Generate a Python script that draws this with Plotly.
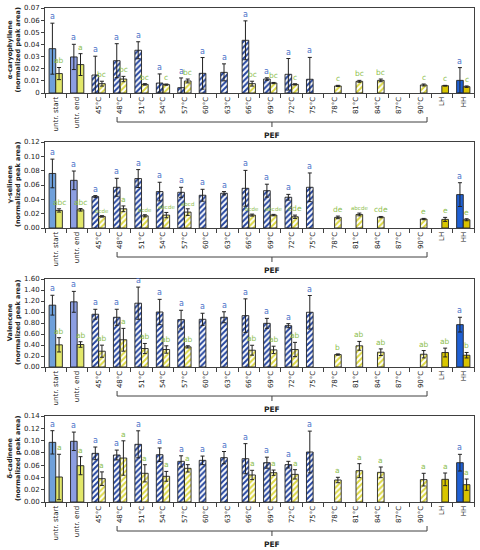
import plotly.graph_objects as go

categories = ["untr. start", "untr. end", "45°C", "48°C", "51°C", "54°C", "57°C", "60°C",
              "63°C", "66°C", "69°C", "72°C", "75°C", "78°C", "81°C", "84°C", "87°C",
              "90°C", "LH", "HH"]
treatment = ["untr", "untr"] + ["pef"] * 16 + ["LH", "HH"]

titles = ["α-caryophyllene", "γ-selinene", "Valencene", "δ-cadinene"]

N_ = None
car_blue = [0.0365, 0.0297, 0.0148, 0.0266, 0.0352, 0.0082, 0.0044, 0.0162, 0.0170, 0.0434,
            0.0115, 0.0154, 0.0113, N_, N_, N_, N_, N_, N_, 0.0104]
car_blue_err = [0.021, 0.0104, 0.0155, 0.014, 0.007, 0.0075, 0.008, 0.013, 0.007, 0.016,
                0.001, 0.013, 0.018, N_, N_, N_, N_, N_, N_, 0.0105]
car_yel = [0.016, 0.0234, 0.0077, 0.0115, 0.0071, 0.0069, 0.0099, N_, N_, 0.0077,
           0.0082, 0.0071, N_, 0.0058, 0.0096, 0.0104, N_, 0.0066, 0.0060, 0.0052]
car_yel_err = [0.005, 0.009, 0.002, 0.0022, 0.0006, 0.0005, 0.0016, N_, N_, 0.002,
               0.0005, 0.0005, N_, 0.0005, 0.0008, 0.0011, N_, 0.0008, 0.0003, 0.0006]
car_yel_let = ["ab", "a", "bc", "bc", "bc", "c", "bc", N_, N_, "bc", "bc", "c", N_, "c",
               "bc", "bc", N_, "c", "c", "c"]

sel_blue = [0.0761, 0.0665, 0.0438, 0.0568, 0.069, 0.0508, 0.0498, 0.0457, 0.0485, 0.0554,
            0.0521, 0.0429, 0.0568, N_, N_, N_, N_, N_, N_, 0.0466]
sel_blue_err = [0.020, 0.013, 0.0014, 0.0125, 0.0125, 0.013, 0.007, 0.0083, 0.0023, 0.025,
                0.009, 0.004, 0.020, N_, N_, N_, N_, N_, N_, 0.0166]
sel_yel = [0.0245, 0.0254, 0.0162, 0.0268, 0.017, 0.018, 0.0222, N_, N_, 0.018,
           0.018, 0.0157, N_, 0.0148, 0.0189, 0.0152, N_, 0.0125, 0.012, 0.0115]
sel_yel_err = [0.0023, 0.0018, 0.001, 0.004, 0.0015, 0.0037, 0.0046, N_, N_, 0.0014,
               0.001, 0.0023, N_, 0.0018, 0.0019, 0.0009, N_, 0.0009, 0.0028, 0.0014]
sel_yel_let = ["abc", "abc", "bcde", "a", "bcde", "abcde", "abcd", N_, N_, "bcde", "abcde",
               "cde", N_, "de", "abcde", "cde", N_, "e", "e", "e"]

val_blue = [1.124, 1.185, 0.959, 0.904, 1.16, 1.0, 0.861, 0.867, 0.904, 0.934,
            0.794, 0.751, 0.995, N_, N_, N_, N_, N_, N_, 0.77]
val_blue_err = [0.18, 0.19, 0.09, 0.146, 0.293, 0.23, 0.17, 0.11, 0.10, 0.305,
                0.09, 0.037, 0.305, N_, N_, N_, N_, N_, N_, 0.134]
val_yel = [0.403, 0.409, 0.287, 0.495, 0.336, 0.318, 0.366, N_, N_, 0.305,
           0.311, 0.318, N_, 0.226, 0.385, 0.269, N_, 0.232, 0.263, 0.214]
val_yel_err = [0.13, 0.05, 0.11, 0.207, 0.092, 0.067, 0.02, N_, N_, 0.09,
               0.067, 0.13, N_, 0.012, 0.08, 0.06, N_, 0.067, 0.08, 0.05]
val_yel_let = ["ab", "ab", "ab", "a", "ab", "ab", "ab", N_, N_, "ab", "ab", "ab", N_, "b",
               "ab", "ab", N_, "ab", "ab", "b"]

cad_blue = [0.0971, 0.0988, 0.0792, 0.0765, 0.0939, 0.077, 0.0662, 0.0678, 0.0722, 0.0705,
            0.064, 0.0608, 0.0814, N_, N_, N_, N_, N_, N_, 0.064]
cad_blue_err = [0.019, 0.015, 0.0103, 0.008, 0.022, 0.011, 0.009, 0.007, 0.010, 0.0245,
                0.009, 0.0054, 0.034, N_, N_, N_, N_, N_, N_, 0.0136]
cad_yel = [0.0407, 0.0591, 0.038, 0.0716, 0.0467, 0.0418, 0.0548, N_, N_, 0.044,
           0.0477, 0.045, N_, 0.0358, 0.051, 0.0483, N_, 0.0364, 0.0369, 0.0282]
cad_yel_err = [0.037, 0.0147, 0.011, 0.028, 0.014, 0.008, 0.006, N_, N_, 0.0076,
               0.0043, 0.0076, N_, 0.0044, 0.0114, 0.0087, N_, 0.0103, 0.0103, 0.0092]
cad_yel_let = ["a"] * 7 + [N_, N_] + ["a"] * 3 + [N_] + ["a"] * 3 + [N_] + ["a"] * 3

y_max = [0.07, 0.12, 1.60, 0.14]
y_dtick = [0.01, 0.02, 0.20, 0.02]

panels = [
    (car_blue, car_blue_err, car_yel, car_yel_err, car_yel_let),
    (sel_blue, sel_blue_err, sel_yel, sel_yel_err, sel_yel_let),
    (val_blue, val_blue_err, val_yel, val_yel_err, val_yel_let),
    (cad_blue, cad_blue_err, cad_yel, cad_yel_err, cad_yel_let),
]

# ---- styling ----
W, H = 480, 550
L, R = 45, 6
panel_px = [(8, 93), (142, 228), (279, 367), (416, 502)]  # top, bottom in px
FONT = "DejaVu Sans"
BLUE_TXT = "#4A72C8"
GREEN_TXT = "#8DBE4E"

blue_fill = {"untr": None, "pef": "#23449E", "LH": "#1F60D4", "HH": "#1F60D4"}
yel_fill = {"untr": "#E2E76A", "pef": "#DCD844", "LH": "#D8C600", "HH": "#D8C200"}
untr_blue = ["#6FA0DA", "#8C9EE2"]


def colors_for(series):
    cols, shapes = [], []
    for i, t in enumerate(treatment):
        if series == "blue":
            c = untr_blue[i] if t == "untr" else blue_fill[t]
        else:
            c = yel_fill[t]
        cols.append(c)
        shapes.append("/" if t == "pef" else "")
    return cols, shapes


fig = go.Figure()
annotations = []
shapes = []
n = len(categories)
half = 0.155

for p, (bv, be, yv, ye, ylet) in enumerate(panels):
    k = "" if p == 0 else str(p + 1)
    xa, ya = "x" + k, "y" + k
    for series, vals, errs in (("blue", bv, be), ("yel", yv, ye)):
        cols, pshapes = colors_for(series)
        fig.add_trace(go.Bar(
            x=categories, y=vals, xaxis=xa, yaxis=ya,
            marker=dict(color=cols, line=dict(color="#222222", width=0.9),
                        pattern=dict(shape=pshapes, fgcolor=cols, bgcolor="white",
                                     fillmode="replace", size=4, solidity=0.5)),
            error_y=dict(type="data", array=errs, symmetric=True, color="#222222",
                         thickness=1, width=2),
            showlegend=False, hoverinfo="skip",
        ))
    # letters
    for i in range(n):
        if bv[i] is not None:
            annotations.append(dict(x=i - half, y=bv[i] + be[i], xref=xa, yref=ya,
                                    text="a", showarrow=False, yanchor="bottom",
                                    font=dict(family=FONT, size=8, color=BLUE_TXT)))
        if yv[i] is not None and ylet[i]:
            sz = 5.5 if len(ylet[i]) >= 4 else 7.5
            annotations.append(dict(x=i + half, y=yv[i] + ye[i], xref=xa, yref=ya,
                                    text=ylet[i], showarrow=False, yanchor="bottom",
                                    font=dict(family=FONT, size=sz, color=GREEN_TXT)))
    top, bot = panel_px[p]
    dom = [1 - bot / H, 1 - top / H]
    axis_common = dict(showline=True, linecolor="#404040", linewidth=1, mirror=True,
                       zeroline=False, showgrid=False, automargin=False)
    fig.layout["xaxis" + k] = dict(
        domain=[0, 1], anchor=ya, type="category", categoryorder="array",
        categoryarray=categories, tickangle=-90, ticks="outside", ticklen=4,
        tickson="boundaries", tickcolor="#404040",
        tickfont=dict(family=FONT, size=7, color="#222222"), **axis_common)
    if p == 0:
        tv = [0.0, 0.01, 0.02, 0.03, 0.04, 0.05, 0.06, 0.07]
        tt = ["0", "0.01", "0.02", "0.03", "0.04", "0.05", "0.06", "0.07"]
        yticks = dict(tickvals=tv, ticktext=tt)
    else:
        yticks = dict(dtick=y_dtick[p], tick0=0, tickformat=".2f")
    fig.layout["yaxis" + k] = dict(
        domain=dom, anchor=xa, range=[0, y_max[p]], ticks="outside", ticklen=3,
        tickcolor="#404040", tickfont=dict(family=FONT, size=7, color="#222222"),
        **yticks, **axis_common)
    # y-axis title
    annotations.append(dict(
        x=(14 - L) / (W - L - R), y=1 - (top + bot) / 2 / H, xref="paper", yref="paper",
        text="<b>" + titles[p] + "</b><br><b>(normalized peak area)</b>",
        textangle=-90, showarrow=False, xanchor="center", yanchor="middle",
        font=dict(family=FONT, size=6.5, color="#222222")))
    # PEF bracket
    def xp(idx):
        return (idx + 0.5) / n
    xl, xr, xc = xp(2.86), xp(17.31), xp(10.08)
    y1, y2, y3 = 1 - (bot + 24) / H, 1 - (bot + 29) / H, 1 - (bot + 34) / H
    line = dict(color="#404040", width=1)
    shapes.append(dict(type="path", xref="paper", yref="paper",
                       path=f"M {xl} {y1} L {xl} {y2} L {xr} {y2} L {xr} {y1}", line=line))
    shapes.append(dict(type="line", xref="paper", yref="paper", x0=xc, x1=xc, y0=y2, y1=y3,
                       line=line))
    annotations.append(dict(x=xc, y=1 - (bot + 42) / H, xref="paper", yref="paper",
                            text="<b>PEF</b>", showarrow=False, xanchor="center",
                            yanchor="middle", font=dict(family=FONT, size=7.5, color="#222222")))

fig.update_layout(
    width=W, height=H, margin=dict(l=L, r=R, t=0, b=0),
    barmode="group", bargap=0.38, bargroupgap=0,
    plot_bgcolor="white", paper_bgcolor="white",
    annotations=annotations, shapes=shapes,
    font=dict(family=FONT),
)

fig.write_html("out.html", config={"displayModeBar": False},
               post_script="document.body.style.margin='0';document.body.style.overflow='hidden';")
